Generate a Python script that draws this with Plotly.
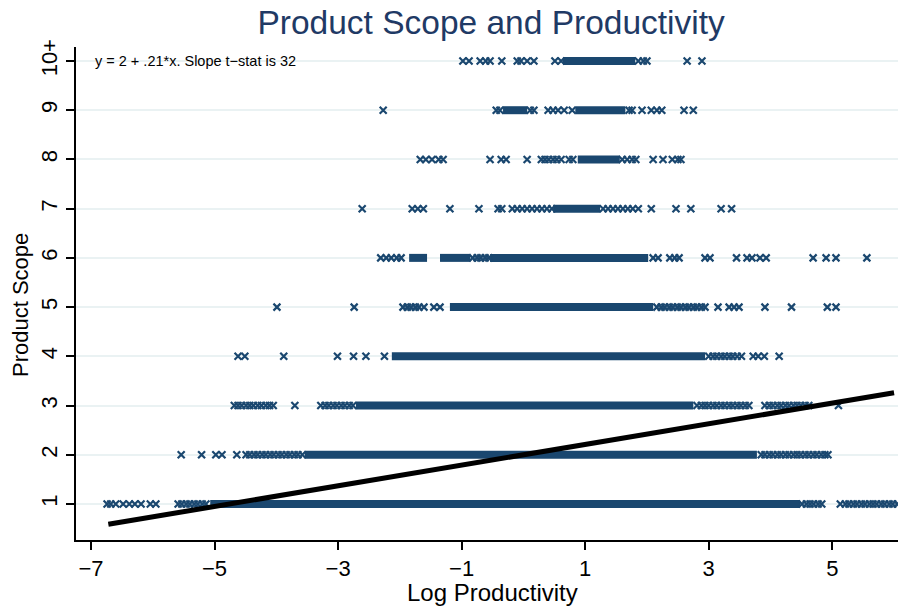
import plotly.graph_objects as go

# ---- data ----
levels = [1, 2, 3, 4, 5, 6, 7, 8, 9, 10]
level_labels = ["1", "2", "3", "4", "5", "6", "7", "8", "9", "10+"]
x_ticks = [-7, -5, -3, -1, 1, 3, 5]

# isolated / loosely packed markers per product-scope level (log productivity)
row1_points = [-6.74, -6.68, -6.60, -6.48, -6.38, -6.29, -6.19, -6.04, -5.95,
               -5.59, -5.53, -5.46, -5.40, -5.33, -5.27, -5.20, -5.14,
               4.51, 4.58, 4.64, 4.70, 4.77, 4.83,
               5.13, 5.21, 5.27, 5.34, 5.40, 5.47, 5.53, 5.60, 5.66, 5.72,
               5.79, 5.85, 5.92, 5.98, 6.05]
row2_points = [-5.54, -5.21, -4.98, -4.88, -4.64,
               -4.49, -4.43, -4.36, -4.30, -4.23, -4.17, -4.10, -4.04, -3.97,
               -3.91, -3.84, -3.78, -3.71, -3.65, -3.58,
               3.85, 3.91, 3.98, 4.04, 4.11, 4.17, 4.24, 4.30, 4.37, 4.43,
               4.49, 4.56, 4.62, 4.69, 4.75, 4.82, 4.88, 4.93]
row3_points = [-4.68, -4.62, -4.56, -4.49, -4.43, -4.37, -4.30, -4.24, -4.17,
               -4.11, -4.05, -3.70,
               -3.28, -3.21, -3.15, -3.08, -3.02, -2.95, -2.89, -2.82, -2.76,
               2.81, 2.88, 2.94, 3.00, 3.07, 3.13, 3.20, 3.26, 3.33, 3.39,
               3.46, 3.52, 3.59, 3.65,
               3.91, 3.98, 4.04, 4.11, 4.17, 4.24, 4.30, 4.37, 4.43, 4.49,
               4.56, 4.62, 5.10]
row4_points = [-4.62, -4.51, -3.88, -3.01, -2.75, -2.55, -2.25,
               3.00, 3.07, 3.13, 3.20, 3.26, 3.33, 3.39, 3.46,
               3.53, 3.72, 3.80, 3.90, 4.14]
row5_points = [-3.99, -2.74, -1.95, -1.88, -1.82, -1.75, -1.69, -1.61,
               -1.45, -1.35,
               2.16, 2.23, 2.29, 2.36, 2.42, 2.49, 2.55, 2.62, 2.68, 2.75,
               2.81, 2.88, 2.94,
               3.15, 3.33, 3.41, 3.49, 3.91, 4.34, 4.92, 5.06]
row6_points = [-2.31, -2.22, -2.14, -2.05, -1.98,
               -0.82, -0.75, -0.69, -0.62, -0.56,
               2.10, 2.18, 2.37, 2.45, 2.52, 2.94, 3.02, 3.45, 3.62, 3.70,
               3.83, 3.93, 4.69, 4.90, 5.06, 5.56]
row7_points = [-2.61, -1.80, -1.71, -1.62, -1.19, -0.72, -0.41, -0.35,
               -0.18, -0.10, -0.02, 0.06, 0.14, 0.22, 0.30, 0.38, 0.46,
               1.29, 1.37, 1.45, 1.53, 1.61, 1.69, 1.77, 1.86,
               2.07, 2.47, 2.71, 3.20, 3.37]
row8_points = [-1.67, -1.58, -1.48, -1.37, -1.30, -0.54, -0.36, -0.28, 0.06,
               0.29, 0.35, 0.41, 0.48, 0.54, 0.61, 0.74, 0.80,
               1.60, 1.68, 1.76, 1.82, 2.10, 2.26, 2.41, 2.50, 2.55]
row9_points = [-2.27, -0.44, -0.38, 0.11, 0.17, 0.40, 0.48, 0.56, 0.66,
               0.79, 1.71, 1.76, 1.92, 2.07, 2.16, 2.24, 2.60, 2.75]
row10_points = [-0.98, -0.88, -0.70, -0.61, -0.54, -0.35, -0.10, -0.04, 0.06,
                0.17, 0.51, 0.61, 1.86, 1.94, 2.00, 2.65, 2.89]

# stretches where markers overlap into a solid band: (from, to)
row1_dense = [(-5.07, 4.48)]
row2_dense = [(-3.54, 3.78)]
row3_dense = [(-2.71, 2.75)]
row4_dense = [(-2.13, 2.94)]
row5_dense = [(-1.19, 2.10)]
row6_dense = [(-1.85, -1.56), (-1.35, -0.86), (-0.54, 2.02)]
row7_dense = [(0.48, 1.24)]
row8_dense = [(0.88, 1.56)]
row9_dense = [(-0.33, 0.06), (0.84, 1.65)]
row10_dense = [(0.64, 1.81)]

# fitted line: y = 2 + .21*x over the range of the data
fit_intercept = 2.0
fit_slope = 0.21
fit_x = [-6.72, 6.0]
fit_note = "y = 2 + .21*x. Slope t\u2212stat is 32"

points_by_level = [row1_points, row2_points, row3_points, row4_points, row5_points,
                   row6_points, row7_points, row8_points, row9_points, row10_points]
dense_by_level = [row1_dense, row2_dense, row3_dense, row4_dense, row5_dense,
                  row6_dense, row7_dense, row8_dense, row9_dense, row10_dense]

NAVY = "#1a476f"
FONT = "Liberation Sans, Arial, sans-serif"

fig = go.Figure()

# dense bands
bx, by = [], []
for lev, spans in zip(levels, dense_by_level):
    for a, b in spans:
        bx += [a, b, None]
        by += [lev, lev, None]
fig.add_trace(go.Scatter(x=bx, y=by, mode="lines",
                         line=dict(color=NAVY, width=8), hoverinfo="skip",
                         showlegend=False))

# individual markers
px, py = [], []
for lev, pts in zip(levels, points_by_level):
    px += pts
    py += [lev] * len(pts)
fig.add_trace(go.Scatter(x=px, y=py, mode="markers",
                         marker=dict(symbol="x-thin", size=7,
                                     line=dict(color=NAVY, width=2.2)),
                         showlegend=False))

# fitted line
fig.add_trace(go.Scatter(x=fit_x, y=[fit_intercept + fit_slope * v for v in fit_x],
                         mode="lines", line=dict(color="black", width=5),
                         showlegend=False))

fig.update_layout(
    width=898, height=607,
    margin=dict(l=76, r=0, t=47, b=67, autoexpand=False),
    paper_bgcolor="white", plot_bgcolor="white",
    font=dict(family=FONT, color="black", size=22),
    title=dict(text="Product Scope and Productivity", x=0.505, xref="paper",
               y=1 - 22 / 607, yref="container", yanchor="middle",
               xanchor="center", font=dict(size=33.5, color="#1f3a65", family=FONT)),
    xaxis=dict(range=[-7.243, 6.064], tickvals=x_ticks, showgrid=False,
               zeroline=False, showline=True, linecolor="black", linewidth=1.5,
               ticks="outside", ticklen=8, tickwidth=1.5, tickcolor="black",
               tickfont=dict(size=22)),
    yaxis=dict(range=[0.269, 10.284], tickvals=levels, ticktext=level_labels,
               tickangle=-90, showgrid=True, gridcolor="#eaf2f3", gridwidth=2,
               zeroline=False, showline=True, linecolor="black", linewidth=1.5,
               ticks="outside", ticklen=8, tickwidth=1.5, tickcolor="black",
               tickfont=dict(size=22)),
    annotations=[
        dict(text=fit_note, x=-6.97, y=10, xref="x", yref="y", xanchor="left",
             yanchor="middle", showarrow=False, font=dict(size=14.5, color="black")),
        dict(text="Product Scope", x=(20 - 76) / 822, y=(540 - 305) / 493,
             xref="paper", yref="paper", textangle=-90, showarrow=False,
             xanchor="center", yanchor="middle", font=dict(size=22)),
        dict(text="Log Productivity", x=(492 - 76) / 822, y=(540 - 592) / 493,
             xref="paper", yref="paper", showarrow=False,
             xanchor="center", yanchor="middle", font=dict(size=24)),
    ],
)

fig.write_html("out.html",
               config={"displayModeBar": False},
               post_script="document.body.style.margin='0';"
                           "document.body.style.overflow='hidden';")
